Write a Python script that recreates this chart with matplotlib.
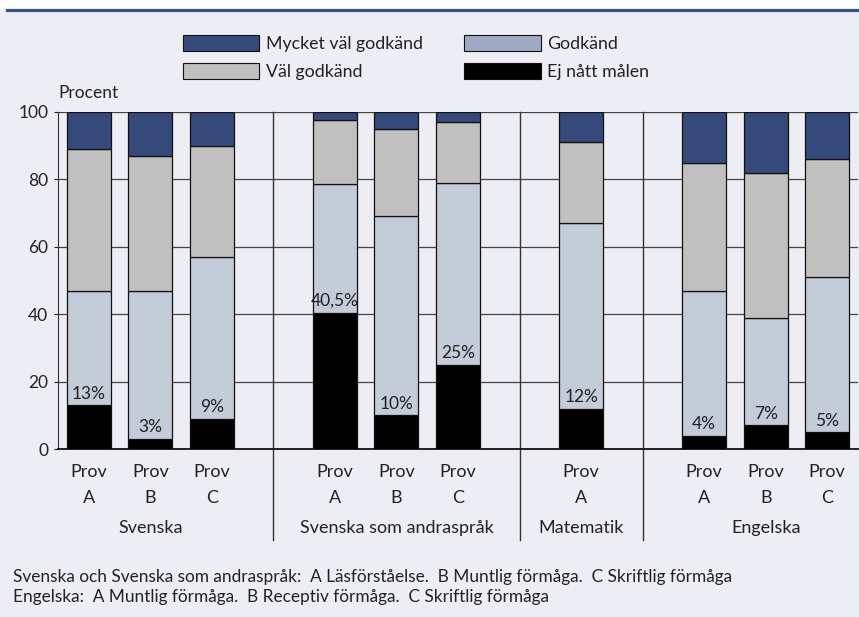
import matplotlib.pyplot as plt
import matplotlib.patches as mpatches
from matplotlib.lines import Line2D
import numpy as np

plt.rcParams["font.family"] = ["Lato", "DejaVu Sans"]

# Share of pupils per grade, one entry per test
positions = [0, 1, 2, 4, 5, 6, 8, 10, 11, 12]
ej_natt = [13, 3, 9, 40.5, 10, 25, 12, 4, 7, 5]
godkand = [34, 44, 48, 38, 59, 54, 55, 43, 32, 46]
val_godkand = [42, 40, 33, 19, 26, 18, 24, 38, 43, 35]
mycket_val = [11, 13, 10, 2.5, 5, 3, 9, 15, 18, 14]

tick_labels = ["Prov\nA", "Prov\nB", "Prov\nC",
               "Prov\nA", "Prov\nB", "Prov\nC",
               "Prov\nA",
               "Prov\nA", "Prov\nB", "Prov\nC"]
groups = ["Svenska", "Svenska som andraspråk", "Matematik", "Engelska"]
group_centers = [1, 5, 8, 11]
separators = [3, 7, 9]

footnote = ("Svenska och Svenska som andraspråk:  A Läsförståelse.  B Muntlig förmåga.  C Skriftlig förmåga\n"
            "Engelska:  A Muntlig förmåga.  B Receptiv förmåga.  C Skriftlig förmåga")

BG = "#eceef3"
C_MVG = "#354a7a"
C_VG = "#c0c0c0"
C_G = "#c4cbd9"
C_EJ = "#000000"
TXT = "#222222"

fig = plt.figure(figsize=(8.59, 6.17), dpi=100, facecolor=BG)
ax = fig.add_axes([58 / 859, 1 - 449 / 617, 800 / 859, 337 / 617])
ax.set_facecolor(BG)

# white band and rule at the top
fig.patches.append(mpatches.Rectangle((0, 1 - 8 / 617), 1, 8 / 617,
                                      transform=fig.transFigure, color="white", zorder=0))
fig.lines.append(Line2D([7 / 859, 1], [1 - 9.5 / 617] * 2, transform=fig.transFigure,
                        color="#3a5283", lw=2.3))

x = np.array(positions)
w = 0.715
ej = np.array(ej_natt)
g = np.array(godkand)
vg = np.array(val_godkand)
mvg = np.array(mycket_val)

kw = dict(width=w, edgecolor="#111111", linewidth=0.9, zorder=3)
ax.bar(x, ej, color=C_EJ, **kw)
ax.bar(x, g, bottom=ej, color=C_G, **kw)
ax.bar(x, vg, bottom=ej + g, color=C_VG, **kw)
ax.bar(x, mvg, bottom=ej + g + vg, color=C_MVG, **kw)

for xi, v in zip(x, ej):
    label = f"{v:g}".replace(".", ",") + "%"
    ax.annotate(label, (xi, v), xytext=(0, 2.5), textcoords="offset points",
                ha="center", va="bottom", fontsize=12.5, color=TXT, zorder=4)

ax.set_xlim(-0.5, 12.5)
ax.set_ylim(0, 100)
ax.set_yticks([0, 20, 40, 60, 80, 100])
ax.set_xticks(positions)
ax.set_xticklabels(tick_labels, linespacing=1.75)
ax.tick_params(axis="y", labelsize=12.5, length=3, width=0.8, pad=4, colors=TXT)
ax.tick_params(axis="x", labelsize=13, length=0, pad=11, colors=TXT)

ax.yaxis.grid(True, color="#444444", lw=0.9)
ax.set_axisbelow(True)
for s in ["top", "right"]:
    ax.spines[s].set_visible(False)
ax.spines["left"].set_color("#333333")
ax.spines["left"].set_linewidth(0.8)
ax.spines["bottom"].set_color("#111111")
ax.spines["bottom"].set_linewidth(1.3)

for sx in separators:
    ax.plot([sx, sx], [100, -27], color="#333333", lw=1, clip_on=False, zorder=2)

for gx, name in zip(group_centers, groups):
    ax.text(gx, -23.5, name, ha="center", va="center", fontsize=13, color=TXT)

fig.text(58 / 859, 1 - 93 / 617, "Procent", ha="left", va="center", fontsize=12.5, color=TXT)
fig.text(13 / 859, 1 - 587 / 617, footnote, ha="left", va="center", fontsize=12.4,
         color=TXT, linespacing=1.3)

handles = [mpatches.Patch(facecolor=C_MVG, edgecolor="#111111", lw=0.8),
           mpatches.Patch(facecolor=C_VG, edgecolor="#111111", lw=0.8),
           mpatches.Patch(facecolor="#a0a9c3", edgecolor="#111111", lw=0.8),
           mpatches.Patch(facecolor=C_EJ, edgecolor="#111111", lw=0.8)]
labels = ["Mycket väl godkänd", "Väl godkänd", "Godkänd", "Ej nått målen"]
fig.legend(handles, labels, loc="upper left", bbox_to_anchor=(183 / 859, 1 - 35 / 617),
           ncol=2, frameon=False, fontsize=12.8, handlelength=4.3, handleheight=1.05,
           handletextpad=0.35, columnspacing=2.35, labelspacing=0.6, borderpad=0,
           borderaxespad=0, labelcolor=TXT)

fig.savefig("out.png", dpi=100, facecolor=BG)
